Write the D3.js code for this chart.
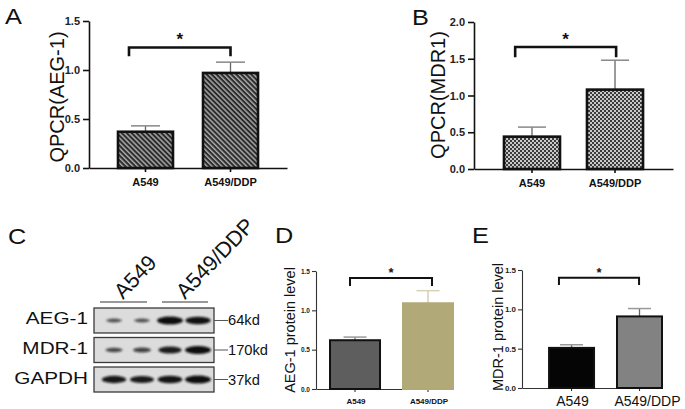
<!DOCTYPE html>
<html><head><meta charset="utf-8">
<script src="https://cdn.jsdelivr.net/npm/d3@7"></script>
<style>body{margin:0;background:#fff}svg{display:block}text{font-family:"Liberation Sans",Arial,Helvetica,sans-serif}</style>
</head><body><svg id="c" width="685" height="409"></svg>
<script>
// ---------------- data ----------------
const categories = ["A549", "A549/DDP"];
const qpcrAEG1 = [0.37, 0.97];
const qpcrAEG1Err = [0.06, 0.11];
const qpcrMDR1 = [0.44, 1.08];
const qpcrMDR1Err = [0.13, 0.40];
const proteinAEG1 = [0.62, 1.09];
const proteinAEG1Err = [0.04, 0.16];
const proteinMDR1 = [0.51, 0.91];
const proteinMDR1Err = [0.04, 0.10];
const ticks15 = [0, 0.5, 1.0, 1.5];
const ticks20 = [0, 0.5, 1.0, 1.5, 2.0];
const sigA = [1.23, 1.14];   // bracket top, bracket leg (data units)
const sigB = [1.66, 1.52];
const sigD = [1.41, 1.31];
const sigE = [1.40, 1.31];
const blotRows = ["AEG-1", "MDR-1", "GAPDH"];
const blotSizes = ["64kd", "170kd", "37kd"];
const blotLanes = ["A549 #1", "A549 #2", "A549/DDP #1", "A549/DDP #2"];
const bandAEG1 = [0.35, 0.35, 1.0, 0.95];
const bandMDR1 = [0.45, 0.5, 0.85, 1.0];
const bandGAPDH = [0.9, 0.88, 0.92, 1.0];

// ---------------- setup ----------------
const svg = d3.select("#c");
const defs = svg.append("defs");
const hatch = defs.append("pattern").attr("id", "hatch").attr("patternUnits", "userSpaceOnUse")
  .attr("width", 3.5).attr("height", 3.5).attr("patternTransform", "rotate(-45)");
hatch.append("rect").attr("width", 3.5).attr("height", 3.5).attr("fill", "#2a2a2a");
hatch.append("rect").attr("width", 1.5).attr("height", 3.5).attr("fill", "#a8a8a8");
const checker = defs.append("pattern").attr("id", "checker").attr("patternUnits", "userSpaceOnUse")
  .attr("width", 4).attr("height", 4);
checker.append("rect").attr("width", 4).attr("height", 4).attr("fill", "#3c3c3c");
checker.append("rect").attr("width", 2).attr("height", 2).attr("fill", "#c8c8c8");
checker.append("rect").attr("x", 2).attr("y", 2).attr("width", 2).attr("height", 2).attr("fill", "#c8c8c8");
defs.append("filter").attr("id", "blur").attr("x", "-50%").attr("y", "-100%").attr("width", "200%").attr("height", "300%")
  .append("feGaussianBlur").attr("stdDeviation", 1.1);

function stext(g, x, y, str, size, sx, anchor, weight) {
  return g.append("text").attr("transform", `translate(${x},${y}) scale(${sx},1)`)
    .attr("text-anchor", anchor || "start").attr("font-size", size)
    .attr("font-weight", weight || "normal").attr("fill", "#111").text(str);
}

function barPanel(c) {
  const g = svg.append("g");
  const y = d3.scaleLinear().domain([0, c.ymax]).range([c.yBottom, c.yTop]);
  const x = d3.scaleBand().domain(categories).range([c.xLeft, c.xRight])
    .paddingInner(c.pi).paddingOuter(c.po).align(c.align);
  const bw = x.bandwidth();
  // y axis
  const ya = g.append("g").attr("transform", `translate(${c.xLeft},0)`)
    .call(d3.axisLeft(y).tickValues(c.ticks).tickFormat(d3.format(".1f"))
      .tickSize(c.tickLen).tickSizeOuter(0).tickPadding(c.tickPad));
  ya.select(".domain").attr("stroke", c.axisColor).attr("stroke-width", c.axisW);
  ya.selectAll(".tick line").attr("stroke", c.axisColor).attr("stroke-width", c.axisW);
  ya.selectAll(".tick text").attr("font-family", "Liberation Sans, Arial, sans-serif")
    .attr("font-size", c.tickFont).attr("font-weight", "bold").attr("fill", "#222");
  // x axis
  const xa = g.append("g").attr("transform", `translate(0,${c.yBottom})`)
    .call(d3.axisBottom(x).tickSize(c.xTickLen).tickSizeOuter(0).tickFormat(""));
  xa.select(".domain").attr("stroke", c.axisColor).attr("stroke-width", c.axisW);
  xa.selectAll(".tick line").attr("stroke", c.axisColor).attr("stroke-width", c.axisW);
  // category labels
  g.selectAll("text.xl").data(categories).join("text").attr("class", "xl")
    .attr("x", (d, i) => x(d) + bw / 2 + c.labelDx[i]).attr("y", c.labelY)
    .attr("text-anchor", "middle").attr("font-size", c.labelFont)
    .attr("font-weight", c.labelWeight).attr("fill", "#111").text(d => d);
  // error bars (drawn first, bar outline over)
  const eb = g.selectAll("g.eb").data(categories).join("g").attr("class", "eb");
  eb.append("line").attr("x1", d => x(d) + bw / 2).attr("x2", d => x(d) + bw / 2)
    .attr("y1", (d, i) => y(c.values[i])).attr("y2", (d, i) => y(c.values[i] + c.errs[i]))
    .attr("stroke", (d, i) => c.errStem[i]).attr("stroke-width", 1.3);
  eb.append("line").attr("x1", d => x(d) + bw / 2 - c.capW / 2).attr("x2", d => x(d) + bw / 2 + c.capW / 2)
    .attr("y1", (d, i) => y(c.values[i] + c.errs[i])).attr("y2", (d, i) => y(c.values[i] + c.errs[i]))
    .attr("stroke", (d, i) => c.errCap[i]).attr("stroke-width", 1.5);
  // bars
  g.selectAll("rect.bar").data(categories).join("rect").attr("class", "bar")
    .attr("x", d => x(d)).attr("width", bw)
    .attr("y", (d, i) => y(c.values[i])).attr("height", (d, i) => y(0) - y(c.values[i]))
    .attr("fill", (d, i) => c.fills[i]).attr("stroke", (d, i) => c.strokes[i])
    .attr("stroke-width", c.barStrokeW);
  // significance bracket
  const bx0 = x(categories[0]) + bw * c.brF[0], bx1 = x(categories[1]) + bw * c.brF[1];
  g.append("path")
    .attr("d", `M${bx0},${y(c.sig[1])}V${y(c.sig[0])}H${bx1}V${y(c.sig[1])}`)
    .attr("fill", "none").attr("stroke", "#111").attr("stroke-width", c.brW);
  g.append("text").attr("x", (bx0 + bx1) / 2).attr("y", y(c.sig[0]) + c.starDy)
    .attr("text-anchor", "middle").attr("font-size", c.starFont).attr("font-weight", "bold")
    .attr("fill", "#111").text("*");
  // y label
  g.append("text").attr("transform", `translate(${c.ylabX},${c.ylabY}) rotate(-90)`)
    .attr("text-anchor", "middle").attr("font-size", c.ylabFont).attr("fill", "#111").text(c.ylab);
}

// ---------------- Panel A ----------------
barPanel({
  values: qpcrAEG1, errs: qpcrAEG1Err, sig: sigA, ymax: 1.5, ticks: ticks15,
  xLeft: 89, xRight: 287, yBottom: 168, yTop: 21, pi: 0.353, po: 0.341, align: 0.5,
  tickLen: 6, tickPad: 3, tickFont: 11, axisColor: "#111", axisW: 1.6, xTickLen: 4,
  labelY: 186, labelFont: 11, labelWeight: "bold", labelDx: [0, 0],
  fills: ["url(#hatch)", "url(#hatch)"], strokes: ["#111", "#111"], barStrokeW: 2.6,
  errStem: ["#666", "#666"], errCap: ["#888", "#888"], capW: 29,
  brF: [0.2, 0.5], brW: 2.6, starDy: -2, starFont: 17,
  ylab: "QPCR(AEG-1)", ylabX: 64, ylabY: 97, ylabFont: 20
});
// ---------------- Panel B ----------------
barPanel({
  values: qpcrMDR1, errs: qpcrMDR1Err, sig: sigB, ymax: 2.0, ticks: ticks20,
  xLeft: 474, xRight: 673, yBottom: 169, yTop: 22, pi: 0.325, po: 0.361, align: 0.5,
  tickLen: 6, tickPad: 3, tickFont: 11, axisColor: "#111", axisW: 1.6, xTickLen: 4,
  labelY: 187, labelFont: 11, labelWeight: "bold", labelDx: [0, 0],
  fills: ["url(#checker)", "url(#checker)"], strokes: ["#111", "#111"], barStrokeW: 2.6,
  errStem: ["#666", "#666"], errCap: ["#888", "#888"], capW: 28,
  brF: [0.2, 0.52], brW: 2.6, starDy: -2, starFont: 17,
  ylab: "QPCR(MDR1)", ylabX: 445, ylabY: 95, ylabFont: 20
});
// ---------------- Panel D ----------------
barPanel({
  values: proteinAEG1, errs: proteinAEG1Err, sig: sigD, ymax: 1.5, ticks: ticks15,
  xLeft: 316, xRight: 453, yBottom: 389, yTop: 271, pi: 0.315, po: 0.096, align: 1,
  tickLen: 4, tickPad: 2, tickFont: 6.5, axisColor: "#333", axisW: 1.1, xTickLen: 3,
  labelY: 404, labelFont: 8, labelWeight: "bold", labelDx: [1, 1],
  fills: ["#5e5e5e", "#b2a978"], strokes: ["#111", "#b2a978"], barStrokeW: 2,
  errStem: ["#777", "#cfc8a8"], errCap: ["#999", "#d8d2b8"], capW: 23,
  brF: [0.4, 0.58], brW: 2, starDy: -1, starFont: 13,
  ylab: "AEG-1 protein level", ylabX: 295, ylabY: 330, ylabFont: 14.5
});
// ---------------- Panel E ----------------
barPanel({
  values: proteinMDR1, errs: proteinMDR1Err, sig: sigE, ymax: 1.5, ticks: ticks15,
  xLeft: 522, xRight: 662, yBottom: 388, yTop: 270, pi: 0.338, po: 0.199, align: 1,
  tickLen: 4, tickPad: 2, tickFont: 8, axisColor: "#333", axisW: 1.1, xTickLen: 3,
  labelY: 406, labelFont: 14, labelWeight: "normal", labelDx: [1, 8],
  fills: ["#050505", "#828282"], strokes: ["#111", "#111"], barStrokeW: 2,
  errStem: ["#666", "#666"], errCap: ["#999", "#999"], capW: 23,
  brF: [0.22, 0.49], brW: 2, starDy: -1, starFont: 13,
  ylab: "MDR-1 protein level", ylabX: 503, ylabY: 327, ylabFont: 14.5
});

// ---------------- Panel C (western blot) ----------------
const gc = svg.append("g");
const laneX = d3.scaleBand().domain(blotLanes).range([100, 212]);
const rowY = d3.scaleBand().domain(blotRows).range([308, 392]).paddingInner(0.153);
const bandData = [bandAEG1, bandMDR1, bandGAPDH];
blotRows.forEach((row, r) => {
  const y0 = rowY(row), h = rowY.bandwidth(), cy = y0 + h / 2;
  gc.append("rect").attr("x", 94).attr("y", y0).attr("width", 120).attr("height", h)
    .attr("fill", "#dcdcdc").attr("stroke", "#3a3a3a").attr("stroke-width", 1.3);
  gc.selectAll(null).data(blotLanes).join("ellipse")
    .attr("cx", d => laneX(d) + laneX.bandwidth() / 2).attr("cy", cy)
    .attr("rx", (d, i) => 5 + 8 * bandData[r][i]).attr("ry", (d, i) => 0.8 + 3.2 * bandData[r][i])
    .attr("fill", "#111").attr("opacity", (d, i) => 0.5 + 0.5 * bandData[r][i])
    .attr("filter", "url(#blur)");
  stext(gc, 88, cy + 4, row, 17, 1.22, "end");
  gc.append("line").attr("x1", 214).attr("x2", 228).attr("y1", cy).attr("y2", cy)
    .attr("stroke", "#555").attr("stroke-width", 1);
  stext(gc, 228, cy + 5, blotSizes[r], 14, 1.05, "start");
});
// lane group headers
const groups = [{ name: categories[0], x0: 100, x1: 147, tx: 123 }, { name: categories[1], x0: 162, x1: 208, tx: 185 }];
groups.forEach(gr => {
  gc.append("line").attr("x1", gr.x0).attr("x2", gr.x1).attr("y1", 302).attr("y2", 302)
    .attr("stroke", "#777").attr("stroke-width", 1.5);
  gc.append("text").attr("transform", `translate(${gr.tx},300) rotate(-46)`)
    .attr("font-size", 21.5).attr("fill", "#111").text(gr.name);
});

// ---------------- panel letters ----------------
const letters = [["A", 5, 24], ["B", 412, 25], ["C", 8, 244], ["D", 275, 243], ["E", 472, 243]];
letters.forEach(l => stext(svg, l[1], l[2], l[0], 22, 1.15, "start"));
</script></body></html>
